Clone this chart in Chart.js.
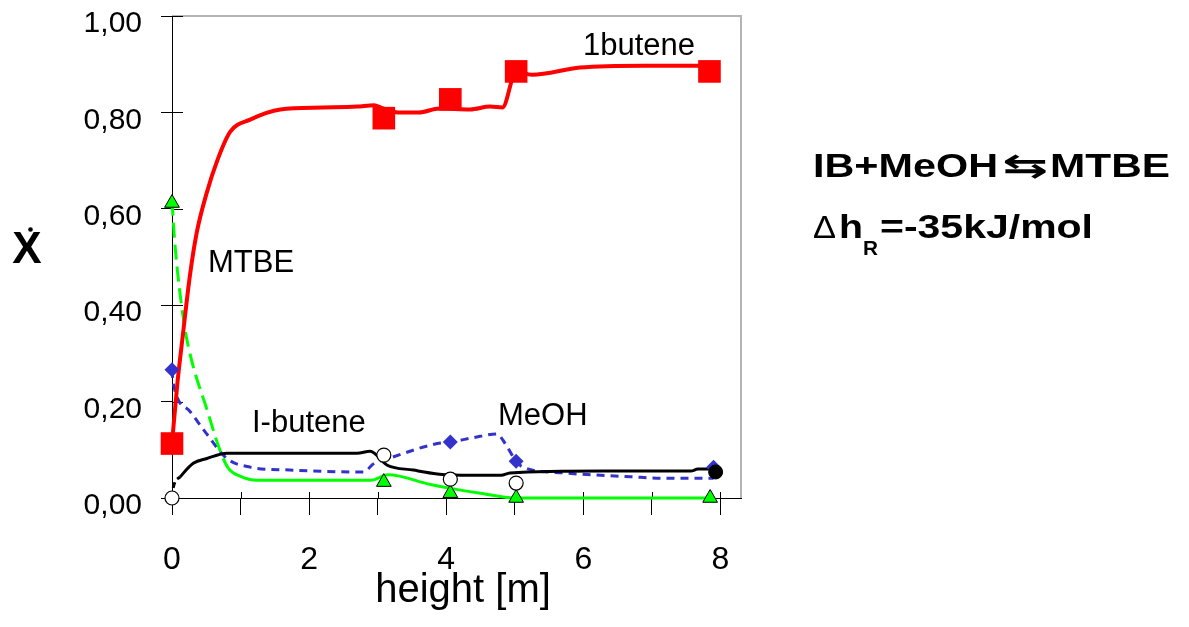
<!DOCTYPE html>
<html lang="en">
<head>
<meta charset="utf-8">
<title>Profil de colonne MTBE</title>
<script src="https://cdn.jsdelivr.net/npm/chart.js@4.4.1/dist/chart.umd.min.js"></script>
<style>
    html, body { margin: 0; padding: 0; background: #fff; }
    #chart { display: block; }
</style>
</head>
<body>
<canvas id="chart" width="1189" height="627"></canvas>
<script>
// Graduations des axes
const xTickValues = [0, 1, 2, 3, 4, 5, 6, 7, 8];
const xTickLabels = ['0', '', '2', '', '4', '', '6', '', '8'];
const yTickValues = [0, 0.2, 0.4, 0.6, 0.8, 1.0];
const yTickLabels = ['0,00', '0,20', '0,40', '0,60', '0,80', '1,00'];

// 1butene : courbe calculée + points mesurés
const butene1Line = [
    [0, 0.113], [0.08, 0.24], [0.16, 0.34], [0.26, 0.46], [0.36, 0.55], [0.5, 0.63],
    [0.66, 0.70], [0.85, 0.76], [1.14, 0.785], [1.58, 0.806], [2.2, 0.81], [2.7, 0.812],
    [2.95, 0.815], [3.05, 0.81], [3.3, 0.80], [3.6, 0.80], [3.9, 0.808], [4.35, 0.806],
    [4.64, 0.812], [4.82, 0.81], [5.02, 0.885], [5.25, 0.878], [5.95, 0.893], [6.9, 0.897],
    [7.84, 0.897]
];
const butene1Points = [[0, 0.113], [3.09, 0.788], [4.06, 0.827], [5.02, 0.885], [7.84, 0.885]];

// MTBE
const mtbeLine = [
    [0, 0.617], [0.03, 0.55], [0.08, 0.47], [0.19, 0.35], [0.3, 0.278], [0.5, 0.188],
    [0.7, 0.099], [0.82, 0.062], [1.0, 0.045], [1.24, 0.037], [2.0, 0.037], [2.9, 0.037],
    [3.15, 0.048], [3.77, 0.028], [4.06, 0.02], [4.5, 0.01], [5.0, 0.0], [7.85, 0.0]
];
const mtbePoints = [[0, 0.612], [3.09, 0.033], [4.06, 0.01], [5.02, 0.0], [7.85, 0.0]];

// MeOH
const meohLine = [
    [0, 0.266], [0.02, 0.237], [0.26, 0.18], [0.5, 0.134], [0.8, 0.082], [1.14, 0.064],
    [1.72, 0.058], [2.8, 0.054], [2.93, 0.07], [3.22, 0.085], [3.87, 0.113], [4.06, 0.116],
    [4.39, 0.125], [4.74, 0.133], [4.86, 0.113], [5.02, 0.076], [5.12, 0.064], [5.71, 0.052],
    [6.7, 0.044], [7.17, 0.041], [7.9, 0.041]
];
const meohPoints = [[0, 0.266], [4.06, 0.116], [5.02, 0.076], [7.9, 0.064]];

// I-butene
const ibuteneLine = [
    [0, 0.0], [0.01, 0.016], [0.12, 0.044], [0.31, 0.072], [0.51, 0.082], [0.8, 0.093],
    [2.7, 0.093], [2.89, 0.097], [3.14, 0.068], [3.52, 0.058], [3.87, 0.05], [4.06, 0.048],
    [4.25, 0.047], [4.8, 0.047], [4.93, 0.052], [6.3, 0.056], [7.57, 0.056], [7.67, 0.06],
    [7.93, 0.06]
];
const ibutenePoints = [[0, 0.0], [3.09, 0.089], [4.06, 0.039], [5.02, 0.031]];
const ibuteneLastPoint = [[7.93, 0.054]];

const FONT = "'Liberation Sans', Arial, sans-serif";

const toXY = arr => arr.map(([x, y]) => ({ x, y }));

function lineDataset(data, color, width, dash, segment) {
    return {
        data: toXY(data),
        showLine: true,
        borderColor: color,
        borderWidth: width,
        borderDash: dash || [],
        pointRadius: 0,
        cubicInterpolationMode: 'monotone',
        clip: false,
        segment: segment || {}
    };
}

function markerDataset(data, style, radius, fill, border, borderWidth) {
    return {
        data: toXY(data),
        showLine: false,
        pointStyle: style,
        pointRadius: radius,
        backgroundColor: fill,
        borderColor: border,
        borderWidth: borderWidth,
        clip: false
    };
}

// Texte étiré horizontalement pour coller à la largeur du modèle
function drawStretched(ctx, text, left, baseline, font, width) {
    ctx.font = font;
    const w = ctx.measureText(text).width;
    ctx.save();
    ctx.translate(left, baseline);
    ctx.scale(width / w, 1);
    ctx.textAlign = 'left';
    ctx.textBaseline = 'alphabetic';
    ctx.fillText(text, 0, 0);
    ctx.restore();
}

const decorPlugin = {
    id: 'decor',
    beforeDatasetsDraw(chart) {
        const { ctx, chartArea: a, scales } = chart;
        ctx.save();
        // cadre gris haut et droite
        ctx.strokeStyle = '#b4b4b4';
        ctx.lineWidth = 2;
        ctx.beginPath();
        ctx.moveTo(a.left, a.top);
        ctx.lineTo(a.right, a.top);
        ctx.lineTo(a.right, a.bottom);
        ctx.stroke();
        // partie intérieure des graduations
        ctx.strokeStyle = '#000';
        ctx.lineWidth = 1;
        ctx.beginPath();
        yTickValues.forEach(v => {
            const py = Math.round(scales.y.getPixelForValue(v)) + 0.5;
            ctx.moveTo(a.left, py);
            ctx.lineTo(a.left + 11, py);
        });
        xTickValues.forEach(v => {
            const px = Math.round(scales.x.getPixelForValue(v)) + 0.5;
            ctx.moveTo(px, a.bottom);
            ctx.lineTo(px, a.bottom - 6);
        });
        ctx.stroke();
        ctx.restore();
    },
    afterDraw(chart) {
        const ctx = chart.ctx;
        ctx.save();
        ctx.fillStyle = '#000';
        ctx.textBaseline = 'alphabetic';

        // noms des courbes
        ctx.font = `31px ${FONT}`;
        ctx.textAlign = 'left';
        ctx.fillText('1butene', 583, 55);
        ctx.fillText('MTBE', 208, 272);
        ctx.fillText('I-butene', 252, 432);
        ctx.fillText('MeOH', 498, 425);

        // titre de l'axe x
        ctx.font = `40px ${FONT}`;
        ctx.textAlign = 'center';
        ctx.fillText('height [m]', 463, 602);

        // titre de l'axe y
        ctx.font = `bold 44px ${FONT}`;
        ctx.fillText('X', 27, 263);
        ctx.beginPath();
        ctx.arc(30.5, 229.5, 2.3, 0, Math.PI * 2);
        ctx.fill();

        // réaction
        const bold = `bold 33px ${FONT}`;
        drawStretched(ctx, 'IB+MeOH', 813, 177, bold, 185);
        drawStretched(ctx, '\u21C6', 1002, 177, `bold 33px 'DejaVu Sans', ${FONT}`, 46);
        drawStretched(ctx, 'MTBE', 1050, 177, bold, 120);
        drawStretched(ctx, '\u0394', 813, 238, `31px ${FONT}`, 23);
        drawStretched(ctx, 'h', 839, 238, bold, 24);
        drawStretched(ctx, 'R', 863, 255, `bold 21px ${FONT}`, 15);
        drawStretched(ctx, '=-35kJ/mol', 880, 238, bold, 213);
        ctx.restore();
    }
};

document.addEventListener('DOMContentLoaded', () => {
    const canvas = document.getElementById('chart');

    new Chart(canvas, {
        type: 'scatter',
        data: {
            datasets: [
                // marqueurs (dessinés au-dessus)
                markerDataset(ibuteneLastPoint, 'circle', 7, '#000', '#000', 1),
                markerDataset(ibutenePoints, 'circle', 7, '#fff', '#000', 1.2),
                markerDataset(meohPoints, 'rectRot', 7.5, '#3333cc', '#3333cc', 0),
                markerDataset(mtbePoints, 'triangle', 8.5, '#00ff00', '#000', 1),
                markerDataset(butene1Points, 'rect', 16, '#ff0000', '#ff0000', 0),
                // courbes
                lineDataset(butene1Line, '#ff0000', 4),
                lineDataset(ibuteneLine, '#000', 3, [], {
                    borderDash: ctx => ctx.p0.parsed.x < 0.1 ? [6, 4] : undefined
                }),
                lineDataset(mtbeLine, '#00ff00', 3, [], {
                    borderDash: ctx => ctx.p0.parsed.x < 0.8 ? [15, 7] : undefined
                }),
                lineDataset(meohLine, '#3333cc', 3, [8, 6])
            ]
        },
        options: {
            responsive: false,
            animation: false,
            devicePixelRatio: 1,
            layout: { padding: { left: 0, top: 14, right: 448, bottom: 0 } },
            plugins: {
                legend: { display: false },
                tooltip: { enabled: false }
            },
            scales: {
                x: {
                    type: 'linear',
                    min: 0,
                    max: 8.3,
                    afterBuildTicks: scale => {
                        scale.ticks = xTickValues.map(v => ({ value: v }));
                    },
                    ticks: {
                        callback: (value, index) => xTickLabels[index],
                        color: '#000',
                        font: { family: FONT, size: 32 },
                        padding: 26,
                        maxRotation: 0,
                        autoSkip: false
                    },
                    grid: {
                        drawOnChartArea: false,
                        drawTicks: true,
                        tickLength: 17,
                        tickColor: '#000',
                        color: '#000'
                    },
                    border: { display: true, color: '#000', width: 1 },
                    afterFit: scale => {
                        scale.height = 129;
                        scale.paddingLeft = 0;
                        scale.paddingRight = 0;
                    }
                },
                y: {
                    type: 'linear',
                    min: 0,
                    max: 1,
                    afterBuildTicks: scale => {
                        scale.ticks = yTickValues.map(v => ({ value: v }));
                    },
                    ticks: {
                        callback: (value, index) => yTickLabels[index],
                        color: '#000',
                        font: { family: FONT, size: 30 },
                        padding: 19,
                        labelOffset: 8
                    },
                    grid: {
                        drawOnChartArea: false,
                        drawTicks: true,
                        tickLength: 11,
                        tickColor: '#000',
                        color: '#000'
                    },
                    border: { display: true, color: '#000', width: 1 },
                    afterFit: scale => {
                        scale.width = 172;
                        scale.paddingTop = 0;
                        scale.paddingBottom = 0;
                    }
                }
            }
        },
        plugins: [decorPlugin]
    });
});
</script>
</body>
</html>
